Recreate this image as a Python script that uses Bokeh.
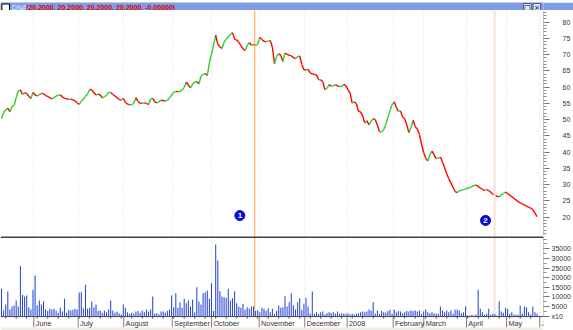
import numpy as np
from bokeh.plotting import figure
from bokeh.layouts import column
from bokeh.models import Range1d, FixedTicker, Span, Grid, ColumnDataSource
from bokeh.embed import file_html
from bokeh.resources import INLINE
from bokeh.core.properties import value

# ---------------- data ----------------
ticker_name = "DNA"
title_values = "(20.2000, 20.2000, 20.2000, 20.2000, -0.00000)"

close = [
    50.3, 52.2, 53.0, 53.6, 52.4, 54.1, 54.4, 56.8, 58.9, 59.2,
    57.8, 58.3, 58.1, 57.2, 56.5, 58.4, 57.6, 57.3, 57.7, 58.1,
    58.0, 57.5, 57.1, 56.8, 56.4, 56.8, 57.3, 57.5, 57.7, 57.0,
    56.6, 56.4, 56.3, 56.3, 56.1, 55.8, 55.2, 54.7, 55.7, 56.3,
    57.2, 57.9, 59.3, 59.2, 58.3, 57.6, 57.9, 57.6, 56.7, 57.1,
    57.5, 58.4, 58.4, 57.8, 57.3, 56.8, 56.2, 56.0, 56.6, 55.3,
    54.8, 54.6, 54.6, 55.0, 56.8, 55.6, 55.1, 55.0, 55.2, 55.0,
    54.6, 56.4, 56.6, 55.5, 55.2, 55.5, 56.0, 55.9, 55.7, 56.0,
    56.7, 57.6, 58.4, 58.7, 58.6, 58.7, 59.1, 59.9, 61.6, 60.6,
    59.8, 60.9, 61.6, 61.8, 61.0, 63.4, 64.0, 64.2, 63.6, 67.5,
    70.2, 73.0, 76.0, 73.2, 72.4, 71.9, 73.8, 74.8, 75.5, 76.2,
    76.8, 74.8, 74.5, 73.8, 72.8, 71.8, 71.3, 72.8, 73.7, 72.9,
    73.2, 72.9, 73.2, 75.4, 74.7, 74.1, 74.0, 74.2, 74.4, 72.3,
    67.2, 69.5, 70.3, 69.8, 67.9, 70.5, 70.1, 69.8, 69.7, 69.1,
    68.8, 69.4, 69.6, 67.0, 65.4, 65.3, 65.5, 64.4, 64.1, 63.9,
    63.8, 62.3, 62.3, 61.7, 59.2, 59.6, 60.8, 60.3, 60.4, 60.8,
    60.4, 60.2, 60.2, 60.9, 60.4, 59.2, 58.2, 55.1, 55.5, 54.9,
    52.6, 52.4, 51.1, 49.0, 49.7, 48.4, 49.5, 50.3, 50.0, 48.3,
    46.3, 46.3, 46.9, 48.5, 50.8, 52.8, 54.6, 55.5, 53.8, 52.6,
    52.7, 50.8, 50.3, 48.4, 46.0, 47.6, 49.8, 47.9, 47.1, 45.5,
    42.6, 39.9, 38.2, 37.3, 39.2, 40.3, 39.2, 38.0, 38.2, 38.5,
    37.0, 35.2, 33.4, 31.8, 30.5, 29.2, 27.9, 27.6, 28.0, 28.3,
    28.5, 28.7, 28.9, 29.1, 29.4, 29.8, 29.9, 29.4, 29.0, 28.6,
    28.2, 28.5, 28.2, 27.6, 27.1, 26.8, 26.4, 26.3, 26.8, 27.3,
    27.7, 27.3, 26.8, 26.3, 25.8, 25.3, 24.8, 24.4, 24.1, 23.8,
    23.4, 23.1, 22.8, 22.3, 21.3, 20.2,
]

volume = [
    14200, 2900, 6000, 12800, 3400, 5000, 5500, 8100, 5000, 26000,
    11000, 10200, 10700, 4600, 3400, 13700, 21100, 5500, 8100, 6000,
    7700, 3600, 2600, 3800, 3400, 3800, 2900, 1700, 4300, 2400,
    9000, 1700, 3300, 2900, 3300, 3800, 3400, 12300, 12400, 4000,
    16300, 3800, 4300, 7600, 4600, 6000, 2600, 2900, 1700, 2900,
    2000, 3400, 8100, 2900, 1700, 2400, 1500, 800, 6000, 4300,
    2000, 1200, 1700, 1200, 2400, 2600, 1700, 2900, 2000, 3400,
    2400, 3400, 10200, 1200, 1500, 800, 2400, 2400, 1700, 2600,
    3400, 10700, 4600, 11900, 4300, 7200, 4300, 9000, 6700, 8100,
    5000, 8600, 2000, 15000, 7600, 6000, 11900, 12400, 13300, 9000,
    17100, 2600, 37200, 28900, 12900, 10200, 9800, 9500, 14200, 8100,
    9300, 12900, 6700, 5000, 4300, 6400, 3300, 4600, 3800, 5000,
    5000, 2600, 3000, 2000, 4300, 3800, 2600, 4100, 2000, 3800,
    1200, 2600, 5500, 4300, 4600, 10300, 5000, 7200, 11900,
    5500, 3400, 7200, 9300, 3300, 6400, 9500, 5000, 1200, 12800,
    1200, 2000, 1200, 2000, 2400, 800, 1500, 2000, 1500, 2000,
    1200, 2400, 1200, 1500, 1200, 1200, 1500, 800, 1200, 800,
    1200, 1500, 2000, 2400, 2000, 2400, 3400, 2900, 7200, 1200,
    2900, 1200, 2600, 2000, 1700, 2600, 3300, 1200, 3400, 2000,
    2600, 2400, 1500, 2000, 2600, 2400, 2900, 2600, 2900, 2400,
    2900, 1200, 2400, 3400, 2000, 1500, 2000, 1500, 1200, 1200,
    5000, 2900, 2000, 2900, 2000, 2900, 1200, 3300, 3300, 2900,
    1500, 2000, 5000, 300, 300, 600, 300, 800, 13700, 3800,
    2000, 700, 1200, 3800, 700, 1200, 1000, 300, 7700, 2400,
    1700, 4300, 3800, 1200, 2000, 700, 700, 700, 5500, 1200,
    5000, 4600, 2000, 800, 5000, 2000, 1200,
]

month_labels = ["June", "July", "August", "September", "October", "November",
                "December", "2008", "February", "March", "April", "May", "J"]
month_index = [15.4, 36.5, 58.2, 81.3, 100.0, 122.7, 144.4, 164.6, 186.5,
               201.1, 221.4, 240.5, 256.3]

price_ticks = [20, 25, 30, 35, 40, 45, 50, 55, 60, 65, 70, 75, 80]
volume_ticks = [5000, 10000, 15000, 20000, 25000, 30000, 35000]

event_index = [120.6]          # orange vertical marker
event2_index = [234.8]         # pale vertical marker
signal_index = [113.5, 230.5]
signal_level = [20.5, 19.0]
signal_text = ["1", "2"]

# ---------------- geometry ----------------
W = 573
FRAME_W = 543
PX_PER_BAR = 2.1
X0 = -1.0 / PX_PER_BAR
X1 = X0 + FRAME_W / PX_PER_BAR
FONT = "Liberation Sans"
GRID_COLOR = "#DCDCDC"

idx = np.arange(len(close))
c = np.array(close, dtype=float)

# ---------------- title bar ----------------
t = figure(width=W, height=10, x_range=Range1d(0, W), y_range=Range1d(0, 10),
           x_axis_location=None, y_axis_location=None, toolbar_location=None,
           output_backend="svg", min_border=0)
t.background_fill_color = "#7F9DE1"
t.border_fill_color = "#7F9DE1"
t.outline_line_color = None
t.grid.visible = False
t.quad(left=1.5, right=9.5, bottom=1.5, top=8.5, fill_color="white", line_color="black", line_width=1)
t.text(x=[12], y=[5], text=[ticker_name], text_font=value(FONT), text_font_size="7px",
       text_color="#E6EAFF", text_baseline="middle", text_align="left")
t.text(x=[27], y=[5], text=[title_values], text_font=value(FONT), text_font_size="7px",
       text_font_style="bold", text_color="#D80000", text_baseline="middle", text_align="left")
t.quad(left=[552, 562], right=[560, 570], bottom=[1, 1], top=[9, 9],
       fill_color="#DCE4F6", line_color="#4A5A80")
t.text(x=[556, 566], y=[5, 5], text=["□", "×"], text_font=value("DejaVu Sans"), text_font_size="7px",
       text_color="#000000", text_baseline="middle", text_align="center")

# ---------------- price panel ----------------
p = figure(width=W, height=226, x_range=Range1d(X0, X1), y_range=Range1d(14.06, 83.6),
           x_axis_location=None, y_axis_location="right", toolbar_location=None,
           output_backend="svg", min_border_left=0, min_border_right=W - FRAME_W,
           min_border_top=0, min_border_bottom=0)
p.outline_line_color = None
p.grid.visible = False
p.add_layout(Grid(dimension=0, ticker=FixedTicker(ticks=month_index),
                  grid_line_color=GRID_COLOR, grid_line_dash="1 2"))

ax = p.yaxis[0]
ax.ticker = FixedTicker(ticks=price_ticks, minor_ticks=list(range(15, 84)))
ax.axis_line_color = "#8C8C8C"
ax.axis_line_dash = "1 1"
ax.major_tick_in = 0
ax.major_tick_out = 6
ax.minor_tick_in = 0
ax.minor_tick_out = 3
ax.major_tick_line_color = "#707070"
ax.minor_tick_line_color = "#8C8C8C"
ax.major_label_standoff = 13
ax.major_label_text_font = FONT
ax.major_label_text_font_size = "7px"
ax.major_label_text_color = "#333333"

for e in event2_index:
    p.add_layout(Span(location=e, dimension="height", line_color="#F4E2D8", line_width=2))
for e in event_index:
    p.add_layout(Span(location=e, dimension="height", line_color="#FFA040", line_width=1))

up = c[1:] >= c[:-1]
seg = ColumnDataSource(dict(x0=idx[:-1], y0=c[:-1], x1=idx[1:], y1=c[1:],
                            color=np.where(up, "#2ECC2E", "#FF0000")))
p.segment("x0", "y0", "x1", "y1", source=seg, line_color="color", line_width=1.4)

p.scatter(x=signal_index, y=signal_level, size=10, fill_color="#0808DC", line_color="#0808DC")
p.text(x=signal_index, y=signal_level, text=signal_text, text_font=value(FONT),
       text_font_size="8px", text_font_style="bold", text_color="white",
       text_align="center", text_baseline="middle")

# ---------------- volume panel ----------------
VTOP = 41394
VBOT = -7488
PXV = 1000 / 1.923  # volume units per pixel
v = figure(width=W, height=94, x_range=p.x_range, y_range=Range1d(VBOT, VTOP),
           x_axis_location=None, y_axis_location="right", toolbar_location=None,
           output_backend="svg", min_border_left=0, min_border_right=W - FRAME_W,
           min_border_top=0, min_border_bottom=0)
v.outline_line_color = None
v.grid.visible = False

vax = v.yaxis[0]
vax.ticker = FixedTicker(ticks=[0] + volume_ticks, minor_ticks=list(range(2500, 41000, 2500)))
vax.major_label_overrides = {0: "x10"}
vax.bounds = (0, VTOP)
vax.axis_line_color = "#8C8C8C"
vax.axis_line_dash = "1 1"
vax.major_tick_in = 0
vax.major_tick_out = 6
vax.minor_tick_in = 0
vax.minor_tick_out = 3
vax.major_tick_line_color = "#707070"
vax.minor_tick_line_color = "#8C8C8C"
vax.major_label_standoff = 2
vax.major_label_text_font = FONT
vax.major_label_text_font_size = "7px"
vax.major_label_text_color = "#333333"

# dotted month grid inside the volume area
v.segment(x0=month_index, y0=0, x1=month_index, y1=VTOP, line_color=GRID_COLOR, line_dash="1 2")
for e in event2_index:
    v.segment(x0=[e], y0=[0], x1=[e], y1=[VTOP], line_color="#F4E2D8", line_width=2)
for e in event_index:
    v.segment(x0=[e], y0=[0], x1=[e], y1=[VTOP], line_color="#FFA040", line_width=1)

v.vbar(x=idx, top=volume, bottom=0, width=0.5, fill_color="#2A48D8", line_color=None)

# separator between panels
v.add_layout(Span(location=VTOP - 0.6 * PXV, dimension="width", line_color="black", line_width=1.5))

# date axis row
v.quad(left=X0, right=X1, bottom=VBOT, top=-11.3 * PXV, fill_color="#EFEDE6", line_color=None)
v.add_layout(Span(location=-0.5 * PXV, dimension="width", line_color="#404040", line_width=1))
week_ticks = list(range(2, len(close), 5))
v.segment(x0=week_ticks, y0=-0.5 * PXV, x1=week_ticks, y1=-2.5 * PXV, line_color="#505050")
v.segment(x0=month_index, y0=-0.5 * PXV, x1=month_index, y1=-11.3 * PXV, line_color="#808080")
v.text(x=[m + 0.9 for m in month_index], y=-7.3 * PXV, text=month_labels,
       text_font=value(FONT), text_font_size="7.3px", text_color="#333333",
       text_align="left", text_baseline="middle")

layout = column(t, p, v)
open("out.html", "w").write(file_html(layout, INLINE))
